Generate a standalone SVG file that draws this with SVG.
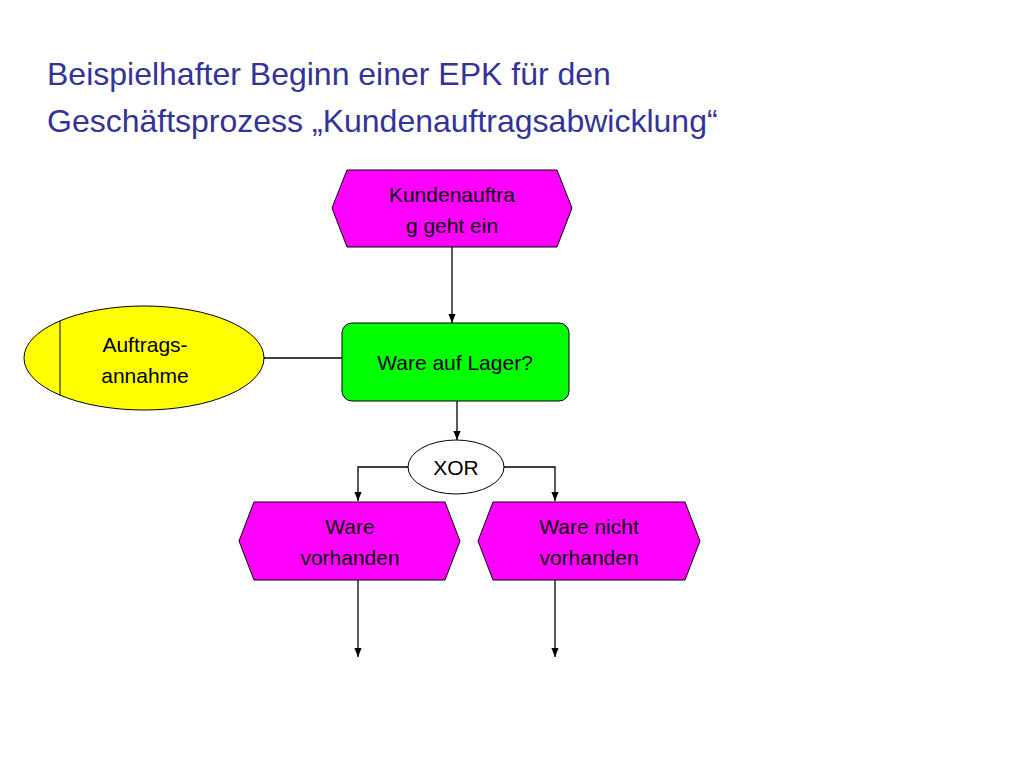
<svg xmlns="http://www.w3.org/2000/svg" width="1024" height="768" viewBox="0 0 1024 768">
<style>
.t{font-family:"Liberation Sans",Arial,sans-serif;font-size:21px;fill:#000;text-anchor:middle}
.ti{font-family:"Liberation Sans",Arial,sans-serif;font-size:32px;fill:#333399}
.ev{fill:#FF00FF;stroke:#000;stroke-width:1}
.ln{stroke:#000;stroke-width:1.3;fill:none}
</style>
<defs><marker id="a" viewBox="0 0 10 10" refX="10" refY="5" markerWidth="7" markerHeight="7" orient="auto"><path d="M0,1 L10,5 L0,9 z" fill="#000"/></marker></defs>
<rect width="1024" height="768" fill="#fff"/>
<text class="ti" x="47" y="85">Beispielhafter Beginn einer EPK für den</text>
<text class="ti" x="47" y="132">Geschäftsprozess „Kundenauftragsabwicklung“</text>
<g id="connectors">
<path class="ln" d="M452,247 V323" marker-end="url(#a)"/>
<path class="ln" d="M264,358 H342"/>
<path class="ln" d="M457,401 V440" marker-end="url(#a)"/>
<path class="ln" d="M408,467 H358 V501" marker-end="url(#a)"/>
<path class="ln" d="M504,467 H555 V501" marker-end="url(#a)"/>
<path class="ln" d="M358,580 V657" marker-end="url(#a)"/>
<path class="ln" d="M555,580 V657" marker-end="url(#a)"/>
</g>
<g id="e1"><polygon class="ev" points="347,170 557,170 572,208 557,247 347,247 332,208"/>
<text class="t" x="452" y="202">Kundenauftra</text><text class="t" x="452" y="233">g geht ein</text></g>
<g id="f1"><rect x="342" y="323" width="227" height="78" rx="10" fill="#00FF00" stroke="#000"/>
<text class="t" x="455" y="370">Ware auf Lager?</text></g>
<g id="o1"><ellipse cx="144" cy="358" rx="120" ry="52" fill="#FFFF00" stroke="#000"/>
<line x1="60" y1="321" x2="60" y2="395" stroke="#000"/>
<text class="t" x="145" y="352">Auftrags-</text><text class="t" x="145" y="383">annahme</text></g>
<g id="x1"><ellipse cx="456" cy="467" rx="48" ry="27" fill="#fff" stroke="#000"/>
<text class="t" x="456" y="475">XOR</text></g>
<g id="e2"><polygon class="ev" points="254,502 445,502 460,541 445,580 254,580 239,541"/>
<text class="t" x="350" y="534">Ware</text><text class="t" x="350" y="565">vorhanden</text></g>
<g id="e3"><polygon class="ev" points="493,502 685,502 700,541 685,580 493,580 478,541"/>
<text class="t" x="589" y="534">Ware nicht</text><text class="t" x="589" y="565">vorhanden</text></g>
</svg>
